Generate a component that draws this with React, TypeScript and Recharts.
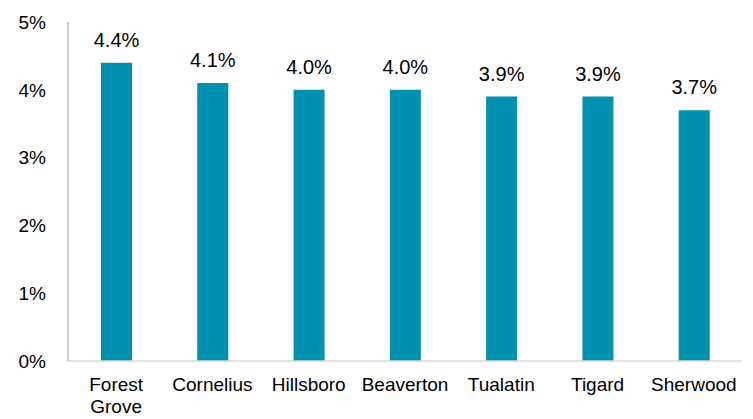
import { BarChart, Bar, XAxis, YAxis, LabelList } from "recharts";

const cities = ["Forest Grove", "Cornelius", "Hillsboro", "Beaverton", "Tualatin", "Tigard", "Sherwood"];
const rates = [4.4, 4.1, 4.0, 4.0, 3.9, 3.9, 3.7];
const yTicks = [0, 1, 2, 3, 4, 5];

const data = cities.map((city, i) => ({ city, rate: rates[i] }));

const font = "'Liberation Sans', Arial, sans-serif";

function CityTick({ x, y, payload }: any) {
  const words = String(payload.value).split(" ");
  return (
    <text x={x} y={y} textAnchor="middle" fill="#000" fontSize={19} fontFamily={font}>
      {words.map((w, i) => (
        <tspan key={i} x={x} dy={i === 0 ? 20 : 22}>
          {w}
        </tspan>
      ))}
    </text>
  );
}

export default function App() {
  return (
    <div style={{ position: "absolute", left: 0, top: 0, background: "#fff" }}>
      <BarChart width={753} height={419} data={data} margin={{ top: 22, right: 11, bottom: 0, left: 0 }}>
        <XAxis
          dataKey="city"
          tick={<CityTick />}
          tickLine={false}
          axisLine={{ stroke: "#d9d9d9", strokeWidth: 1.5 }}
          interval={0}
          height={58}
          tickSize={0}
          tickMargin={10}
        />
        <YAxis
          domain={[0, 5]}
          ticks={yTicks}
          tickFormatter={(v) => `${v}%`}
          tickLine={false}
          tickSize={0}
          tickMargin={22}
          width={68}
          axisLine={{ stroke: "#bfbfbf", strokeWidth: 1.5 }}
          tick={{ fill: "#000", fontSize: 19, fontFamily: font }}
        />
        <Bar dataKey="rate" fill="#0090b0" barSize={31} isAnimationActive={false}>
          <LabelList
            dataKey="rate"
            position="top"
            offset={16}
            formatter={(v: any) => `${Number(v).toFixed(1)}%`}
            style={{ fill: "#000", fontSize: 20, fontFamily: font }}
          />
        </Bar>
      </BarChart>
    </div>
  );
}
